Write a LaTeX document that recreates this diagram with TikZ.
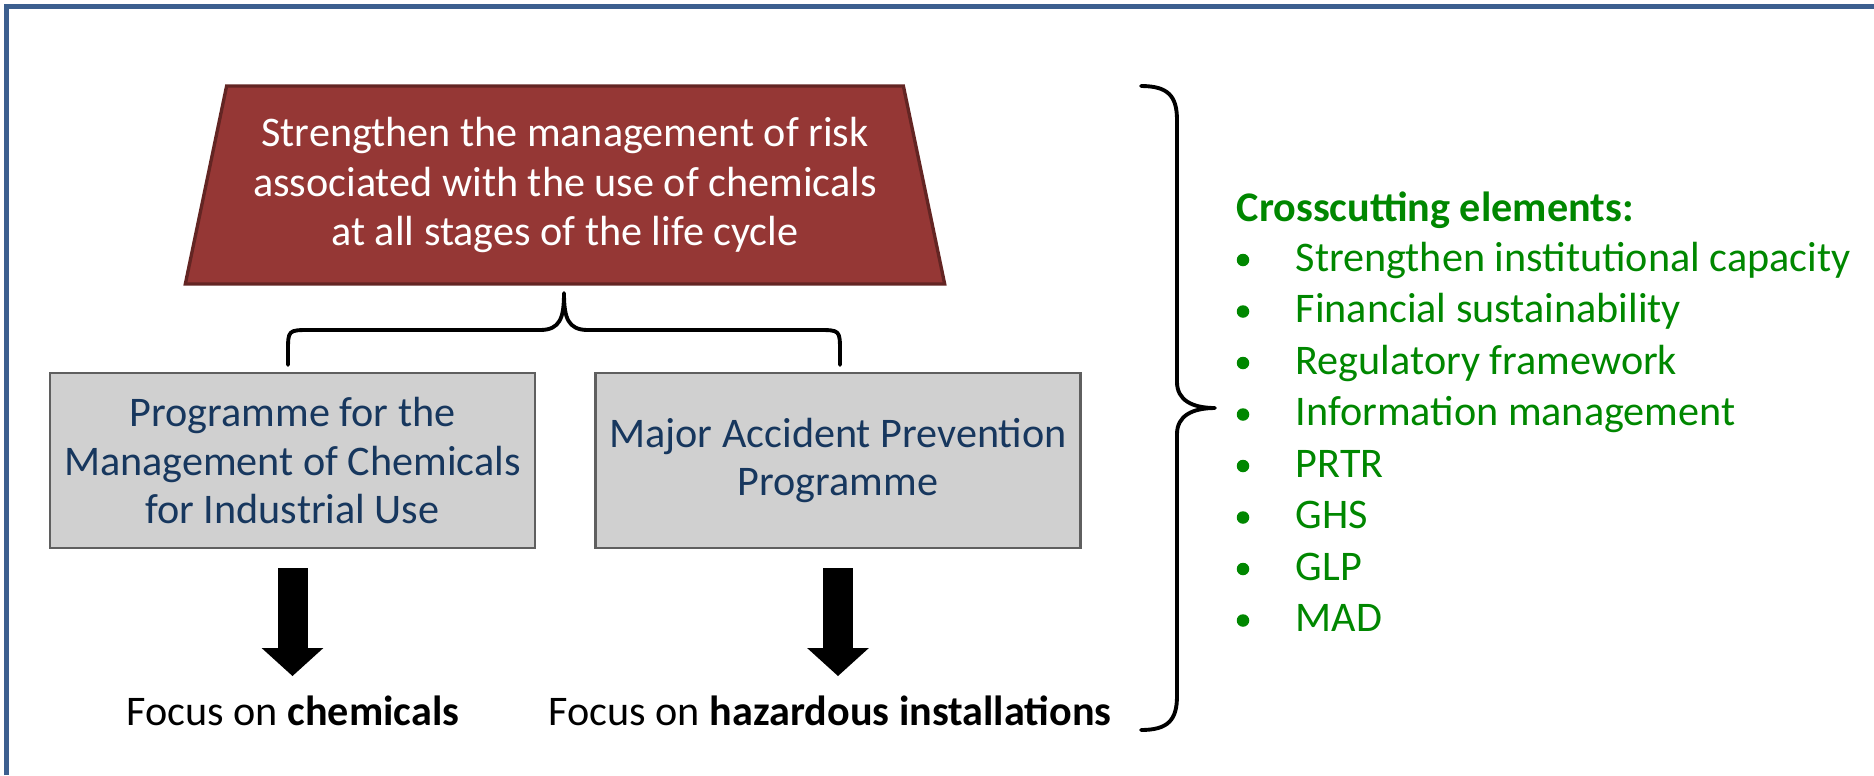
\documentclass[tikz,border=0pt]{standalone}
\usepackage{fontspec}
\setmainfont{Carlito}
\usetikzlibrary{arrows.meta,positioning,calc,shapes.geometric}

\definecolor{frameblue}{RGB}{60,95,143}
\definecolor{goalred}{RGB}{149,55,53}
\definecolor{goaledge}{RGB}{99,37,35}
\definecolor{boxgray}{RGB}{208,208,208}
\definecolor{boxedge}{RGB}{95,95,95}
\definecolor{boxtext}{RGB}{23,55,94}
\definecolor{crossgreen}{RGB}{0,135,0}

\begin{document}
\begin{tikzpicture}[x=0.1mm,y=-0.1mm,
  goal/.style={trapezium,trapezium left angle=76,trapezium right angle=76,
    trapezium stretches=true,minimum width=7.6cm,minimum height=1.98cm,
    fill=goalred,draw=goaledge,line width=0.95pt,text=white,align=center,
    font=\fontsize{12}{14}\selectfont},
  prog/.style={rectangle,fill=boxgray,draw=boxedge,line width=0.6pt,
    minimum width=4.85cm,minimum height=1.75cm,text=boxtext,align=center,
    font=\fontsize{12}{13.9}\selectfont},
  focus/.style={anchor=base,inner sep=0pt,font=\fontsize{12}{14}\selectfont},
  cross/.style={anchor=base west,inner sep=0pt,text=crossgreen,
    font=\fontsize{12}{14}\selectfont},
  dot/.style={circle,fill=crossgreen,inner sep=0pt,minimum size=1.25mm},
  brace/.style={line width=1.1pt,line cap=round,line join=round},
  fat/.style={line width=3mm,-{Triangle[width=6mm,length=2.8mm]}}]
  \useasboundingbox (0,0) rectangle (1874,775);

  % frame (top and left edge only)
  \draw[frameblue,line width=1.45pt] (6.5,775) -- (6.5,6.5) -- (1874,6.5);

  % goal
  \node[goal] (goal) at (565,185)
    {Strengthen the management of risk\\associated with the use of chemicals\\at all stages of the life cycle};

  % the two programmes
  \node[prog] (chem) at (292.5,460.5)
    {Programme for the\\Management of Chemicals\\for Industrial Use};
  \node[prog] (mapp) at (838,460.5)
    {Major Accident Prevention\\Programme};

  % brace under the goal
  \draw[brace] (288,365) -- (288,352) .. controls (288,330) .. (310,330)
    -- (540,330) .. controls (560,330) and (564,318) .. (564,293)
    .. controls (564,318) and (568,330) .. (588,330)
    -- (818,330) .. controls (840,330) .. (840,352) -- (840,365);

  % focus
  \node[focus] (fchem) at (293,725) {Focus on \textbf{chemicals}};
  \node[focus] (fmapp) at (830,725) {Focus on \textbf{hazardous installations}};

  \draw[fat] ($(chem.south)+(0,19)$) -- ($(chem.south)+(0,127)$);
  \draw[fat] ($(mapp.south)+(0,19)$) -- ($(mapp.south)+(0,127)$);

  % big brace
  \draw[brace] (1141,86) .. controls (1168,86) and (1177,96) .. (1177,120)
    -- (1177,382) .. controls (1177,400) and (1192,408) .. (1215,408)
    .. controls (1192,408) and (1177,416) .. (1177,434)
    -- (1177,696) .. controls (1177,720) and (1168,730) .. (1141,730);

  % crosscutting elements
  \node[cross] (head) at (1236,221) {\textbf{Crosscutting elements:}};
  \foreach \txt [count=\i] in {Strengthen institutional capacity,
      Financial sustainability,Regulatory framework,Information management,
      PRTR,GHS,GLP,MAD} {
    \node[dot] (dot\i) at (1243,{260+51.5*(\i-1)}) {};
    \node[cross] (elem\i) at (1295,{271+51.5*(\i-1)}) {\txt};
  }
\end{tikzpicture}
\end{document}
